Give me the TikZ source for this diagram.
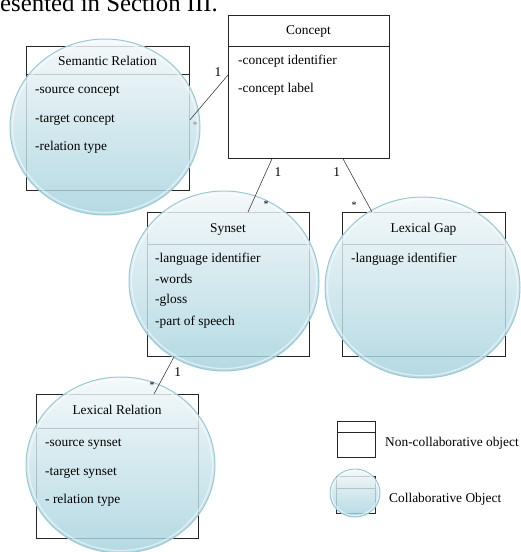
\documentclass[tikz,border=0pt]{standalone}
\usepackage{fontspec}
\setmainfont{Liberation Serif}
\definecolor{bubtop}{RGB}{242,247,249}
\definecolor{bubbot}{RGB}{164,209,221}
\definecolor{bubrim}{RGB}{156,200,213}

\begin{document}
\begin{tikzpicture}[x=1pt, y=-1pt,
  box/.style={draw=black!85, line width=0.8pt, anchor=north west, inner sep=0pt},
  rule/.style={draw=black!85, line width=0.8pt},
  bubble/.style={top color=bubtop, bottom color=bubbot, fill opacity=0.82, draw=bubrim, line width=1pt},
  rim/.style={draw=white, line width=1.2pt, opacity=0.55},
  title/.style={anchor=base, inner sep=0pt, font=\fontsize{13.4}{16}\selectfont},
  attr/.style={anchor=base west, inner sep=0pt, font=\fontsize{13.4}{16}\selectfont},
  mult/.style={anchor=base, inner sep=0pt, font=\fontsize{13.4}{16}\selectfont},
  many/.style={anchor=base, inner sep=0pt, font=\fontsize{10}{10}\selectfont},
  link/.style={draw=black!75, line width=0.6pt}]
\useasboundingbox (0,0) rectangle (520,552);
\node[anchor=base west, inner sep=0pt, font=\fontsize{24.8}{28}\selectfont] (caption) at (0,11.7) {esented in Section III.};

\node[box, minimum width=161pt, minimum height=143pt] (concept) at (228,15) {};
\draw[rule] ([yshift=-31pt]concept.north west) -- ([yshift=-31pt]concept.north east);
\node[box, minimum width=163pt, minimum height=144pt] (semrel) at (26,46) {};
\draw[rule] ([yshift=-28pt]semrel.north west) -- ([yshift=-28pt]semrel.north east);
\node[box, minimum width=162pt, minimum height=144pt] (synset) at (147,212) {};
\draw[rule] ([yshift=-32pt]synset.north west) -- ([yshift=-32pt]synset.north east);
\node[box, minimum width=163pt, minimum height=144pt] (lexgap) at (342,212) {};
\draw[rule] ([yshift=-32pt]lexgap.north west) -- ([yshift=-32pt]lexgap.north east);
\node[box, minimum width=162pt, minimum height=144pt] (lexrel) at (36,394) {};
\draw[rule] ([yshift=-34pt]lexrel.north west) -- ([yshift=-34pt]lexrel.north east);
\node[box, minimum width=38pt, minimum height=36pt] (legplain) at (337,421) {};
\draw[rule] ([yshift=-11pt]legplain.north west) -- ([yshift=-11pt]legplain.north east);
\node[box, minimum width=39pt, minimum height=37pt] (legcollab) at (336,476) {};
\draw[rule] ([yshift=-12pt]legcollab.north west) -- ([yshift=-12pt]legcollab.north east);

\path[bubble] (105,127) ellipse [x radius=95, y radius=88];
\draw[rim] (105,127) ellipse [x radius=92.5, y radius=85.5];
\path[bubble] (224,281) ellipse [x radius=95, y radius=90];
\draw[rim] (224,281) ellipse [x radius=92.5, y radius=87.5];
\path[bubble] (422.5,287.5) ellipse [x radius=97.5, y radius=90.5];
\draw[rim] (422.5,287.5) ellipse [x radius=95, y radius=88];
\path[bubble] (120.5,465) ellipse [x radius=94.5, y radius=88];
\draw[rim] (120.5,465) ellipse [x radius=92, y radius=85.5];
\path[bubble] (355,493) ellipse [x radius=25, y radius=24];
\draw[rim] (355,493) ellipse [x radius=23.5, y radius=22.5];

\draw[link] ([yshift=-60pt]concept.north west) -- ([yshift=-74pt]semrel.north east);
\draw[link] ([xshift=44pt]concept.south west) -- ([xshift=101pt]synset.north west);
\draw[link] ([xshift=115pt]concept.south west) -- ([xshift=30pt]lexgap.north west);
\draw[link] ([xshift=27pt]synset.south west) -- ([xshift=118pt]lexrel.north west);

\node[mult] (m1) at (218,76) {1};
\node[many, text=black!45] (s1) at (195,128.3) {*};
\node[mult] (m2) at (278,176.7) {1};
\node[many] (s2) at (266,207.3) {*};
\node[mult] (m3) at (336.7,176.7) {1};
\node[many] (s3) at (354,208.3) {*};
\node[mult] (m4) at (177.7,376.7) {1};
\node[many] (s4) at (152,388.3) {*};

\node[title] (conceptname) at (308.5,34) {Concept};
\node[attr] (conceptid) at (238,64.5) {-concept identifier};
\node[attr] (conceptlabel) at (238,92.5) {-concept label};

\node[title] (semrelname) at (107.5,65.7) {Semantic Relation};
\node[attr] (semrelsrc) at (35,93) {-source concept};
\node[attr] (semreltgt) at (35,122) {-target concept};
\node[attr] (semreltype) at (35,150) {-relation type};

\node[title] (synsetname) at (228,232.7) {Synset};
\node[attr] (synsetlang) at (155,262.7) {-language identifier};
\node[attr] (synsetwords) at (155,283.3) {-words};
\node[attr] (synsetgloss) at (155,303.3) {-gloss};
\node[attr] (synsetpos) at (155,325.7) {-part of speech};

\node[title] (lexgapname) at (423.5,232) {Lexical Gap};
\node[attr] (lexgaplang) at (351,262.7) {-language identifier};

\node[title] (lexrelname) at (117,414) {Lexical Relation};
\node[attr] (lexrelsrc) at (45,446.7) {-source synset};
\node[attr] (lexreltgt) at (45,475) {-target synset};
\node[attr] (lexreltype) at (45,503) {- relation type};

\node[attr] (legplaintext) at (385,446.7) {Non-collaborative object};
\node[attr] (legcollabtext) at (389,502.3) {Collaborative Object};
\end{tikzpicture}
\end{document}
